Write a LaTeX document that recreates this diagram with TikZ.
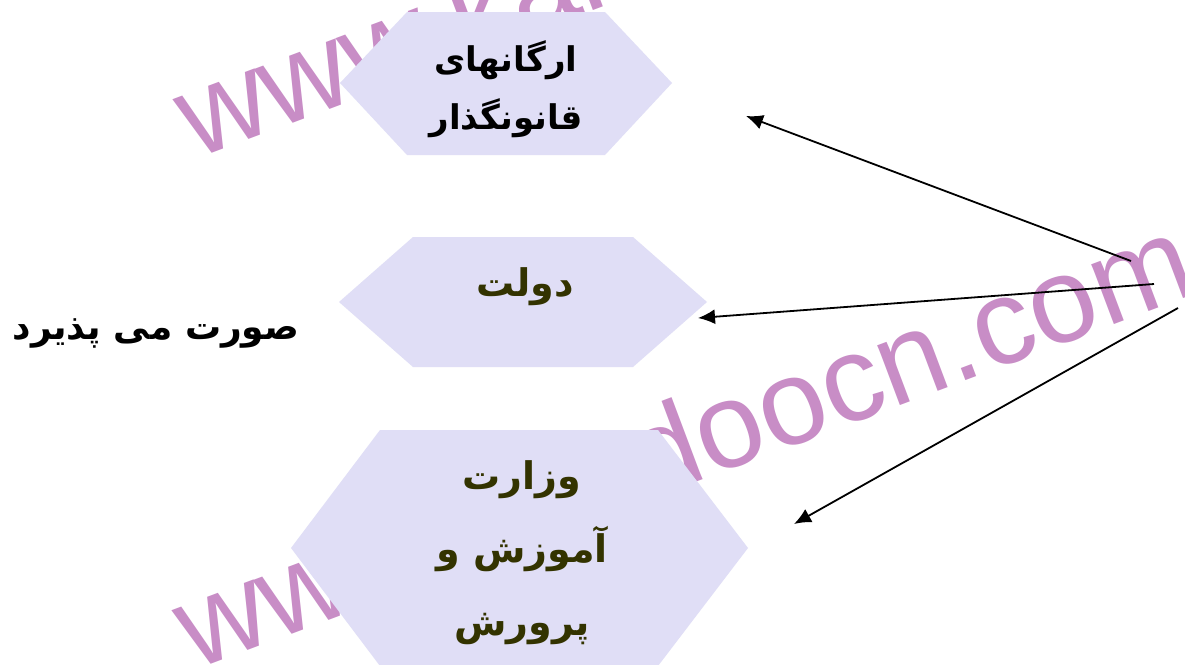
\documentclass[tikz,border=0pt]{standalone}
\usepackage{fontspec}
\setmainfont{Liberation Sans}
\newfontfamily\arabicfont[Script=Arabic]{DejaVu Sans}
\TeXXeTstate=1
\usetikzlibrary{arrows.meta}
\definecolor{hexfill}{RGB}{224,222,246}
\definecolor{wmark}{RGB}{200,141,198}
\definecolor{darkolive}{RGB}{51,51,0}
\begin{document}
\begin{tikzpicture}[x=1pt,y=-1pt,
  wm/.style={text=wmark,font=\fontsize{121}{121}\selectfont,anchor=base west,rotate=20.6,inner sep=0pt},
  hexshape/.style={fill=hexfill},
  toplabel/.style={font=\arabicfont\bfseries\fontsize{34}{58}\selectfont,align=center,text=black,inner sep=0pt},
  midlabel/.style={font=\arabicfont\bfseries\fontsize{38}{73}\selectfont,align=center,text=darkolive,inner sep=0pt},
  sidelabel/.style={font=\arabicfont\bfseries\fontsize{36}{40}\selectfont,text=black,inner sep=0pt},
  conn/.style={line width=1.8pt,-{Latex[length=17pt,width=15pt]}}]
\useasboundingbox (0,0) rectangle (1185,664);
\begin{scope}
\clip (0,0) rectangle (1185,664);
\fill[white] (0,0) rectangle (1185,664);
% watermark
\node[wm] (wmtop) at (195,160) {www.kandoocn.com};
\node[wm] (wmbot) at (194,671) {www.kandoocn.com};
% hexagons
\fill[hexshape] (340,83) -- (407,12) -- (605,12) -- (672,83) -- (605,155) -- (407,155) -- cycle;
\fill[hexshape] (339,302) -- (413,237) -- (633,237) -- (707,302) -- (633,367) -- (413,367) -- cycle;
\fill[hexshape] (291,548) -- (380,430) -- (658,430) -- (748,548) -- (658,666) -- (380,666) -- cycle;
\end{scope}
% labels
\node[toplabel] (legis) at (506,89) {\beginR ارگانهای\endR\\\beginR قانونگذار\endR};
\node[midlabel] (govt) at (525,287) {\beginR دولت\endR};
\node[midlabel] (min) at (522,553) {\beginR وزارت\endR\\\beginR آموزش و\endR\\\beginR پرورش\endR};
\node[sidelabel] (side) at (156,333) {\beginR صورت می پذیرد\endR};
% connectors
\coordinate (s1) at (1131,261);
\coordinate (e1) at (746,116);
\coordinate (s2) at (1154,284);
\coordinate (e2) at (698,318);
\coordinate (s3) at (1178,308);
\coordinate (e3) at (794,524);
\draw[conn] (s1) -- (e1);
\draw[conn] (s2) -- (e2);
\draw[conn] (s3) -- (e3);
\end{tikzpicture}
\end{document}
